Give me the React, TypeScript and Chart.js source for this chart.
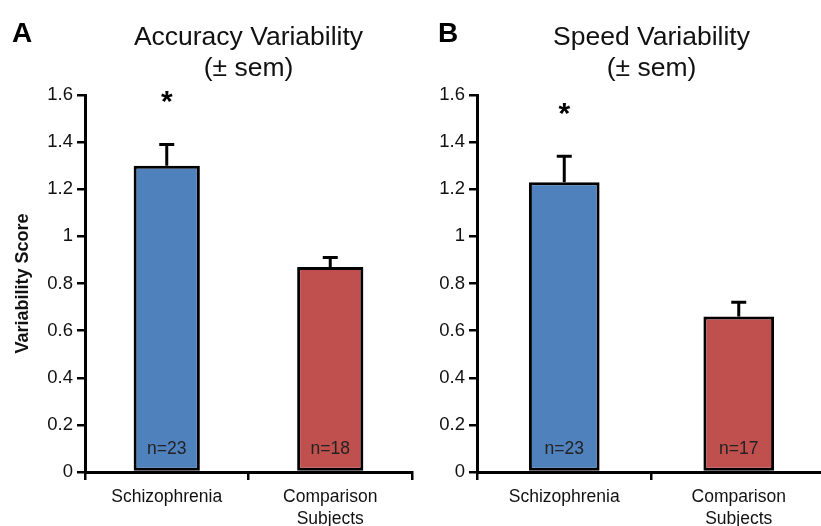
import React, { useEffect, useRef } from "react";
import { Chart, registerables } from "chart.js";

Chart.register(...registerables);

const categories = ["Schizophrenia", ["Comparison", "Subjects"]];
const accuracyMeans = [1.3, 0.87];
const accuracySem = [0.09, 0.04];
const accuracyN = ["n=23", "n=18"];
const accuracySig = [true, false];
const speedMeans = [1.23, 0.66];
const speedSem = [0.11, 0.06];
const speedN = ["n=23", "n=17"];
const speedSig = [true, false];
const yTickLabels = ["0", "0.2", "0.4", "0.6", "0.8", "1", "1.2", "1.4", "1.6"];
const barColors = ["#4F81BD", "#C0504D"];
const accuracyTitle = ["Accuracy Variability", "(\u00B1 sem)"];
const speedTitle = ["Speed Variability", "(\u00B1 sem)"];
const yAxisTitle = "Variability Score";

const FONT = "'Liberation Sans', Arial, Helvetica, sans-serif";

const annotPlugin = {
  id: "annot",
  afterDraw(chart: any, _args: any, opts: any) {
    const ctx = chart.ctx;
    const ys = chart.scales.y;
    const meta = chart.getDatasetMeta(0);
    const data = chart.data.datasets[0].data as number[];
    ctx.save();
    ctx.strokeStyle = "#000";
    ctx.lineWidth = 3;
    ctx.lineCap = "butt";
    meta.data.forEach((el: any, i: number) => {
      const top = ys.getPixelForValue(data[i] + opts.sem[i]);
      ctx.beginPath();
      ctx.moveTo(el.x, el.y);
      ctx.lineTo(el.x, top);
      ctx.moveTo(el.x - 7.5, top);
      ctx.lineTo(el.x + 7.5, top);
      ctx.stroke();
      ctx.fillStyle = "#222";
      ctx.font = `17.5px ${FONT}`;
      ctx.textAlign = "center";
      ctx.textBaseline = "middle";
      ctx.fillText(opts.n[i], el.x, ys.getPixelForValue(0) - 23);
      if (opts.sig[i]) {
        ctx.fillStyle = "#000";
        ctx.font = `bold 30px ${FONT}`;
        ctx.textBaseline = "middle";
        ctx.fillText("*", el.x, top - 42);
      }
    });
    ctx.fillStyle = "#000";
    ctx.font = `bold 28px ${FONT}`;
    ctx.textAlign = "left";
    ctx.textBaseline = "alphabetic";
    ctx.fillText(opts.letter, opts.letterX, 42);
    ctx.restore();
  },
};

function makeConfig(
  means: number[],
  sem: number[],
  n: string[],
  sig: boolean[],
  title: string[],
  letter: string,
  letterX: number,
  yWidth: number,
  showYTitle: boolean,
  padRight: number
): any {
  return {
    type: "bar",
    data: {
      labels: categories,
      datasets: [
        {
          data: means,
          backgroundColor: barColors,
          borderColor: "#000",
          borderWidth: 3,
          borderSkipped: false,
          barPercentage: 0.405,
          categoryPercentage: 1,
        },
      ],
    },
    options: {
      responsive: false,
      animation: false,
      devicePixelRatio: 1,
      layout: { padding: { left: 0, right: padRight, top: 0, bottom: 0 } },
      plugins: {
        legend: { display: false },
        tooltip: { enabled: false },
        title: {
          display: true,
          text: title,
          fullSize: false,
          color: "#111",
          font: { family: FONT, size: 26.5, weight: "normal", lineHeight: 1.17 },
          padding: { top: 22, bottom: 11 },
        },
        annot: { sem, n, sig, letter, letterX },
      },
      scales: {
        x: {
          offset: true,
          grid: {
            display: true,
            offset: true,
            drawOnChartArea: false,
            drawTicks: true,
            tickLength: 8,
            color: "#000",
            lineWidth: 2.5,
          },
          border: { display: true, color: "#000", width: 3 },
          ticks: {
            color: "#111",
            font: { family: FONT, size: 17.5, lineHeight: 1.25 },
            padding: 6,
            maxRotation: 0,
            autoSkip: false,
          },
          afterFit: (scale: any) => {
            scale.height = 54;
          },
        },
        y: {
          min: 0,
          max: 1.6,
          ticks: {
            stepSize: 0.2,
            color: "#111",
            font: { family: FONT, size: 18.5 },
            padding: 4,
            callback: (_v: any, i: number) => yTickLabels[i],
          },
          grid: {
            display: true,
            drawOnChartArea: false,
            drawTicks: true,
            tickLength: 8,
            color: "#000",
            lineWidth: 2.5,
          },
          border: { display: true, color: "#000", width: 3 },
          title: {
            display: showYTitle,
            text: yAxisTitle,
            color: "#111",
            font: { family: FONT, size: 18, weight: "bold", lineHeight: 1.2 },
            padding: { top: 12, bottom: 0 },
          },
          afterFit: (scale: any) => {
            scale.width = yWidth;
          },
        },
      },
    },
    plugins: [annotPlugin],
  };
}

export default function App() {
  const leftRef = useRef<HTMLCanvasElement>(null);
  const rightRef = useRef<HTMLCanvasElement>(null);

  useEffect(() => {
    const c1 = new Chart(
      leftRef.current as HTMLCanvasElement,
      makeConfig(accuracyMeans, accuracySem, accuracyN, accuracySig, accuracyTitle, "A", 12, 85, true, 4)
    );
    const c2 = new Chart(
      rightRef.current as HTMLCanvasElement,
      makeConfig(speedMeans, speedSem, speedN, speedSig, speedTitle, "B", 22, 61, false, 0)
    );
    return () => {
      c1.destroy();
      c2.destroy();
    };
  }, []);

  return (
    <div
      style={{
        position: "absolute",
        left: 0,
        top: 0,
        width: 821,
        height: 526,
        overflow: "hidden",
        background: "#fff",
      }}
    >
      <canvas
        ref={leftRef}
        width={416}
        height={526}
        style={{ position: "absolute", left: 0, top: 0, width: 416, height: 526 }}
      />
      <canvas
        ref={rightRef}
        width={410}
        height={526}
        style={{ position: "absolute", left: 416, top: 0, width: 410, height: 526 }}
      />
    </div>
  );
}
